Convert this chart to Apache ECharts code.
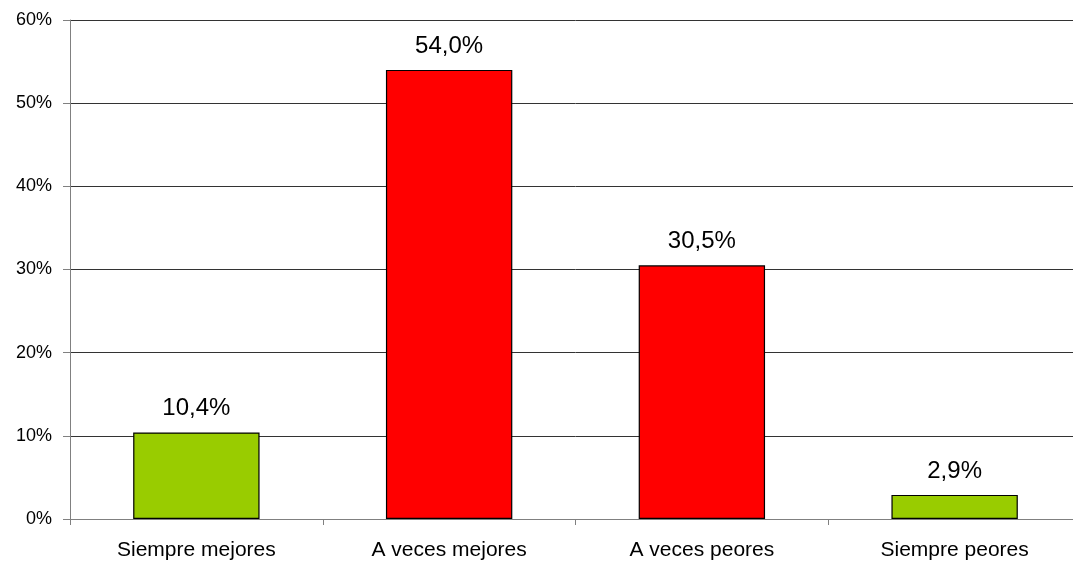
<!DOCTYPE html>
<html>
<head>
<meta charset="utf-8">
<script src="https://cdn.jsdelivr.net/npm/echarts@6/dist/echarts.min.js"></script>
<style>
  html, body { margin: 0; padding: 0; background: #fff; overflow: hidden; }
  /* the plot runs slightly past the right edge of the window */
  #chart { width: 1081px; height: 561px; }
</style>
</head>
<body>
<div id="chart"></div>
<script>
// Categories and percentages
const categories = ['Siempre mejores', 'A veces mejores', 'A veces peores', 'Siempre peores'];
const values = [10.4, 54.0, 30.5, 2.9];
const barColors = ['#99CC00', '#FF0000', '#FF0000', '#99CC00'];
const yTicks = { min: 0, max: 60, interval: 10 };

const fmt = v => v.toFixed(1).replace('.', ',') + '%';

const chart = echarts.init(document.getElementById('chart'));
chart.setOption({
  animation: false,
  textStyle: { fontFamily: 'Liberation Sans, Arial, sans-serif' },
  grid: { left: 70, top: 20, right: 0, bottom: 41, containLabel: false },
  xAxis: {
    type: 'category',
    data: categories,
    axisLine: { lineStyle: { color: '#808080', width: 1 } },
    axisTick: { show: true, length: 6, alignWithLabel: false, lineStyle: { color: '#808080' } },
    axisLabel: { color: '#000', fontSize: 21, margin: 21 }
  },
  yAxis: {
    type: 'value',
    min: yTicks.min, max: yTicks.max, interval: yTicks.interval,
    axisLine: { show: true, lineStyle: { color: '#808080', width: 1 } },
    axisTick: { show: true, length: 7, lineStyle: { color: '#808080' } },
    axisLabel: { color: '#000', fontSize: 18, margin: 18, formatter: v => v + '%' },
    splitLine: { lineStyle: { color: '#333', width: 1 } }
  },
  series: [{
    type: 'bar',
    barWidth: '50%',
    data: values.map((v, i) => ({
      value: v,
      itemStyle: { color: barColors[i], borderColor: '#000', borderWidth: 1.2 }
    })),
    label: {
      show: true, position: 'top', distance: 12,
      color: '#000', fontSize: 24,
      formatter: p => fmt(p.value)
    }
  }]
});
</script>
</body>
</html>
